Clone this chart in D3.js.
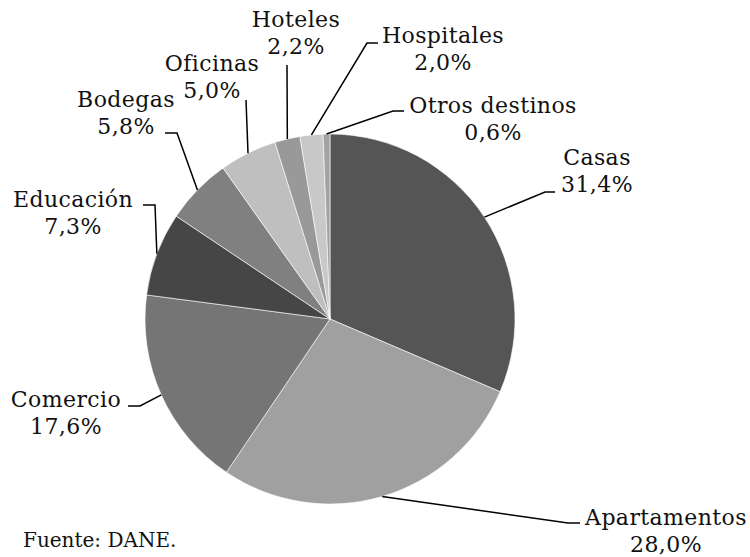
<!DOCTYPE html>
<html>
<head>
<meta charset="utf-8">
<script src="https://cdn.jsdelivr.net/npm/d3@7"></script>
</head>
<body style="margin:0">
<svg id="chart" width="750" height="557"></svg>
<script>
// destinos de la construcción (% del área)
const categories = ["Casas", "Apartamentos", "Comercio", "Educación", "Bodegas",
  "Oficinas", "Hoteles", "Hospitales", "Otros destinos"];
const shares = [31.4, 28.0, 17.6, 7.3, 5.8, 5.0, 2.2, 2.0, 0.6];
const valueLabels = ["31,4%", "28,0%", "17,6%", "7,3%", "5,8%", "5,0%", "2,2%", "2,0%", "0,6%"];

const fills = ["#555555", "#a0a0a0", "#757575", "#464646", "#808080",
  "#bfbfbf", "#999999", "#c8c8c8", "#a3a3a3"];

// label layout: elbow point, end of the horizontal tick, text centre and first baseline
const labelLayout = [
  { elbow: [545, 192], end: [555, 192], tx: 597, ty: 165 },
  { elbow: [568, 523], end: [580, 523], tx: 666, ty: 525 },
  { elbow: [140, 406], end: [128, 406], tx: 66, ty: 407 },
  { elbow: [155, 205], end: [143, 205], tx: 73, ty: 207 },
  { elbow: [177, 133], end: [165, 133], tx: 126, ty: 107 },
  { elbow: [246, 100], end: [246, 100], tx: 212, ty: 71 },
  { elbow: [287, 65], end: [287, 65], tx: 296, ty: 27 },
  { elbow: [367, 43], end: [378, 43], tx: 443, ty: 43 },
  { elbow: [393, 111], end: [404, 111], tx: 493, ty: 113 }
];

const cx = 330, cy = 319, radius = 185, lineGap = 27;

const svg = d3.select("#chart");
const g = svg.append("g").attr("transform", `translate(${cx},${cy})`);

const pie = d3.pie().sort(null).value((d) => d.value);
const arc = d3.arc().innerRadius(0).outerRadius(radius);
const anchorArc = d3.arc().innerRadius(radius).outerRadius(radius);

const data = categories.map((c, i) => ({ name: c, value: shares[i], label: valueLabels[i] }));
const arcs = pie(data);

g.selectAll("path")
  .data(arcs)
  .join("path")
  .attr("d", arc)
  .attr("fill", (d, i) => fills[i])
  .attr("stroke", "#fff")
  .attr("stroke-width", 0.6);

// leader lines
svg.append("g")
  .selectAll("polyline")
  .data(arcs)
  .join("polyline")
  .attr("points", (d, i) => {
    const [x, y] = anchorArc.centroid(d);
    const L = labelLayout[i];
    return [[x + cx, y + cy], L.elbow, L.end].map((p) => p.join(",")).join(" ");
  })
  .attr("fill", "none")
  .attr("stroke", "#000")
  .attr("stroke-width", 1.5);

const labels = svg.append("g")
  .selectAll("text")
  .data(arcs)
  .join("text")
  .attr("font-family", "DejaVu Serif")
  .attr("font-size", 22)
  .attr("letter-spacing", 0.4)
  .attr("fill", "#111")
  .attr("text-anchor", "middle")
  .attr("x", (d, i) => labelLayout[i].tx)
  .attr("y", (d, i) => labelLayout[i].ty);

labels.append("tspan").text((d) => d.data.name);
labels.append("tspan")
  .attr("x", (d, i) => labelLayout[i].tx)
  .attr("dy", lineGap)
  .text((d) => d.data.label);

svg.append("text")
  .attr("font-family", "DejaVu Serif")
  .attr("font-size", 20)
  .attr("fill", "#111")
  .attr("x", 23)
  .attr("y", 547)
  .text("Fuente: DANE.");
</script>
</body>
</html>
